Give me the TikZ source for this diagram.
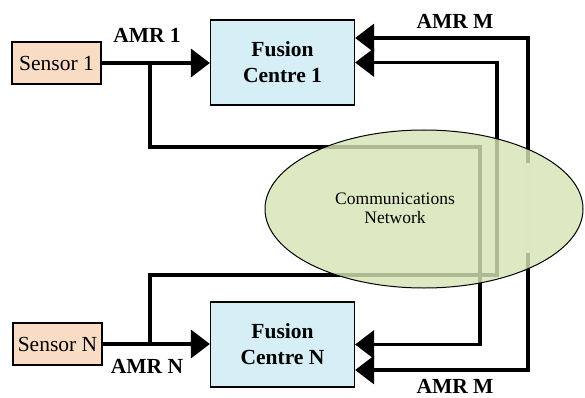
\documentclass[tikz,border=0pt]{standalone}
\usepackage{fontspec}
\setmainfont{Liberation Serif}
\usetikzlibrary{arrows.meta,shapes.geometric}

\definecolor{sensorfill}{HTML}{F9DCC4}
\definecolor{fusionfill}{HTML}{D6EEF6}
\definecolor{netfill}{HTML}{D6E4B4}

\begin{document}
\begin{tikzpicture}[x=1pt,y=-1pt,
  sensorbox/.style={draw, line width=1.2pt, fill=sensorfill, minimum width=89pt,
    minimum height=42pt, inner sep=0pt, font=\fontsize{21.5}{24}\selectfont},
  fusionbox/.style={draw, line width=1.2pt, fill=fusionfill, minimum width=144pt,
    minimum height=85pt, inner sep=0pt, align=center,
    font=\fontsize{21.5}{26}\selectfont\bfseries},
  link/.style={line width=3.5pt},
  arrowlink/.style={link, -{Triangle[length=19pt,width=28pt]}},
  arrowboth/.style={link, {Triangle[length=19pt,width=28pt]}-{Triangle[length=19pt,width=28pt]}},
  amrlabel/.style={inner sep=0pt, font=\fontsize{21.5}{24}\selectfont\bfseries}
]
\useasboundingbox (0,0) rectangle (585,398);

% sensors and fusion centres
\node[sensorbox] (s1) at (56.5,63) {Sensor 1};
\node[sensorbox] (sN) at (57.5,344) {Sensor N};
\node[fusionbox] (f1) at (282.5,62.5) {Fusion\\Centre 1};
\node[fusionbox] (fN) at (282.5,344.5) {Fusion\\Centre N};

% routing points
\coordinate (j1) at (150,63);
\coordinate (r1) at (480,147);
\coordinate (jN) at (150,344);
\coordinate (rN) at (497,275);
\coordinate (mTop) at (528,38);
\coordinate (mBot) at (528,370);

% direct reports
\draw[arrowlink] (s1.east) -- (s1.east -| f1.west);
\draw[arrowlink] (sN.east) -- (sN.east -| fN.west);

% cross reports through the network
\draw[arrowlink] (j1) |- (r1) |- (fN.east);
\draw[arrowlink] (jN) |- (rN) |- (f1.east);
\draw[arrowboth] (f1.east |- mTop) -- (mTop) -- (mBot) -- (fN.east |- mBot);

% the AMR M line is hidden in the middle of the network
\fill[white] (522,163) rectangle (534,253);

% communications network
\node[ellipse, draw, line width=1pt, fill=netfill, fill opacity=0.82,
  minimum width=318pt, minimum height=158pt, inner sep=0pt] (net) at (424,209) {};
\node[align=center, inner sep=0pt, font=\fontsize{17.5}{19}\selectfont] (netlabel)
  at (395,208) {Communications\\Network};

% labels
\node[amrlabel] (l1) at (147,35) {AMR 1};
\node[amrlabel] (lN) at (147,366) {AMR N};
\node[amrlabel] (lm1) at (455,21) {AMR M};
\node[amrlabel] (lm2) at (455,386) {AMR M};
\end{tikzpicture}
\end{document}
